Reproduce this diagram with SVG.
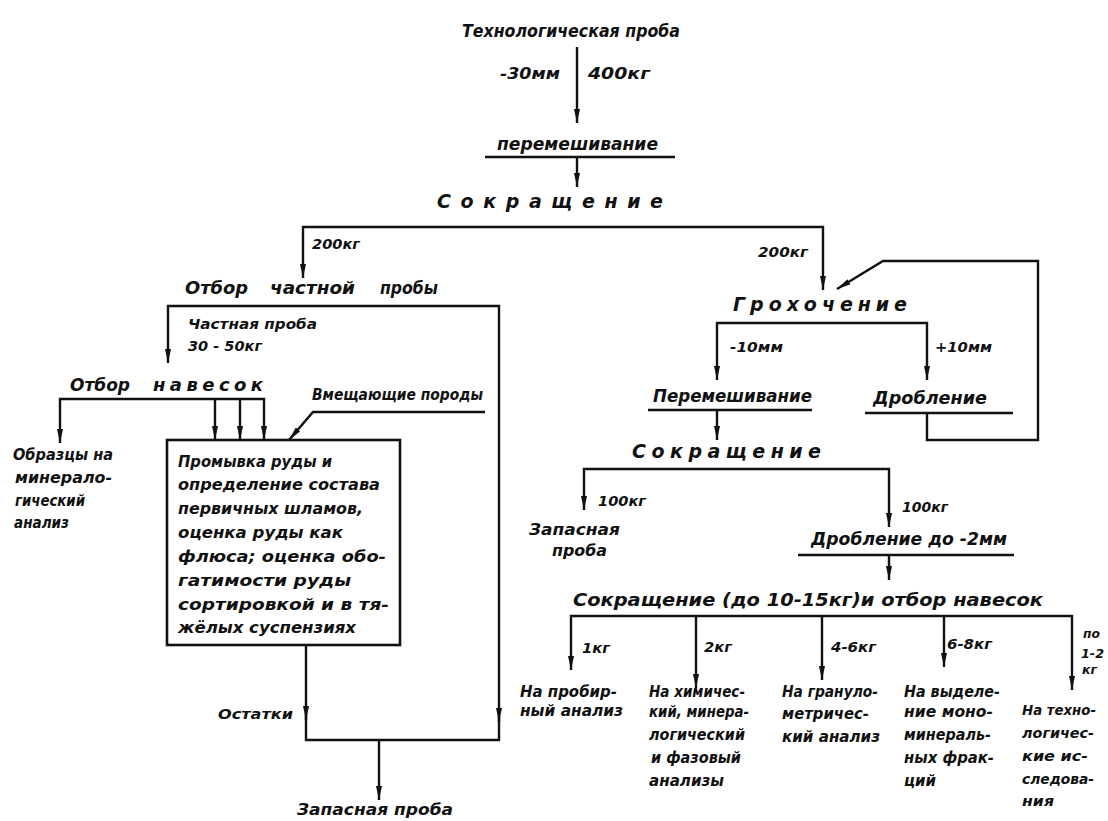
<svg xmlns="http://www.w3.org/2000/svg" width="1108" height="821" viewBox="0 0 1108 821">
<style>
.ln{fill:none;stroke:#111;stroke-width:2.4;stroke-linejoin:miter}
.bar{fill:none;stroke:#111;stroke-width:2.6}
.box{fill:none;stroke:#111;stroke-width:2.6}
.t{font-family:"DejaVu Sans","Liberation Sans",sans-serif;font-style:italic;font-weight:bold;fill:#111}
.b{font-size:18px}
.m{font-size:16px}
.s{font-size:14px}
</style>
<defs>
<marker id="ah" viewBox="0 0 14 6" refX="14" refY="3" markerWidth="14" markerHeight="6" markerUnits="userSpaceOnUse" orient="auto">
<path d="M0,0 L14,3 L0,6 z" fill="#111"/>
</marker>
</defs>
<rect width="1108" height="821" fill="#fff"/>

<g id="connectors">
<path class="ln" d="M577,47 V123" marker-end="url(#ah)"/>
<path class="ln" d="M577,157 V187" marker-end="url(#ah)"/>
<path class="ln" d="M577,227 H303 V278" marker-end="url(#ah)"/>
<path class="ln" d="M577,227 H823 V290" marker-end="url(#ah)"/>
<path class="ln" d="M330,306 H168 V363" marker-end="url(#ah)"/>
<path class="ln" d="M330,306 H499 V722" marker-end="url(#ah)"/>
<path class="ln" d="M499,716 V740 H306 V714"/>
<path class="ln" d="M306,645 V720" marker-end="url(#ah)"/>
<path class="ln" d="M379,740 V800" marker-end="url(#ah)"/>
<path class="ln" d="M160,399 H60 V443" marker-end="url(#ah)"/>
<path class="ln" d="M160,399 H264 V440" marker-end="url(#ah)"/>
<path class="ln" d="M215,399 V440" marker-end="url(#ah)"/>
<path class="ln" d="M240,399 V440" marker-end="url(#ah)"/>
<path class="ln" d="M485,412 H313 L289,440" marker-end="url(#ah)"/>
<path class="ln" d="M820,323 H717 V380" marker-end="url(#ah)"/>
<path class="ln" d="M820,323 H927 V380" marker-end="url(#ah)"/>
<path class="ln" d="M717,410 V440" marker-end="url(#ah)"/>
<path class="ln" d="M927,413 V440 H1038 V261 H883 L837,289" marker-end="url(#ah)"/>
<path class="ln" d="M717,469 H584 V510" marker-end="url(#ah)"/>
<path class="ln" d="M717,469 H889 V527" marker-end="url(#ah)"/>
<path class="ln" d="M889,555 V580" marker-end="url(#ah)"/>
<path class="ln" d="M700,616 H571 V670" marker-end="url(#ah)"/>
<path class="ln" d="M700,616 H1072 V690" marker-end="url(#ah)"/>
<path class="ln" d="M696,616 V688" marker-end="url(#ah)"/>
<path class="ln" d="M822,616 V680" marker-end="url(#ah)"/>
<path class="ln" d="M944,616 V667" marker-end="url(#ah)"/>
</g>

<g id="labels">
<text class="t m" x="500" y="79" textLength="60" lengthAdjust="spacingAndGlyphs">-30мм</text>
<text class="t m" x="588" y="79" textLength="62" lengthAdjust="spacingAndGlyphs">400кг</text>
<text class="t s" x="312" y="249" textLength="48" lengthAdjust="spacingAndGlyphs">200кг</text>
<text class="t s" x="758" y="257" textLength="50" lengthAdjust="spacingAndGlyphs">200кг</text>
<text class="t s" x="188" y="329" textLength="129" lengthAdjust="spacingAndGlyphs">Частная проба</text>
<text class="t s" x="188" y="351" textLength="74" lengthAdjust="spacingAndGlyphs">30 - 50кг</text>
<text class="t s" x="218" y="719" textLength="75" lengthAdjust="spacingAndGlyphs">Остатки</text>
<text class="t s" x="730" y="352" textLength="53" lengthAdjust="spacingAndGlyphs">-10мм</text>
<text class="t s" x="935" y="352" textLength="57" lengthAdjust="spacingAndGlyphs">+10мм</text>
<text class="t s" x="598" y="506" textLength="48" lengthAdjust="spacingAndGlyphs">100кг</text>
<text class="t s" x="902" y="512" textLength="46" lengthAdjust="spacingAndGlyphs">100кг</text>
<text class="t s" x="582" y="653" textLength="28" lengthAdjust="spacingAndGlyphs">1кг</text>
<text class="t s" x="704" y="652" textLength="28" lengthAdjust="spacingAndGlyphs">2кг</text>
<text class="t s" x="831" y="652" textLength="45" lengthAdjust="spacingAndGlyphs">4-6кг</text>
<text class="t s" x="947" y="649" textLength="45" lengthAdjust="spacingAndGlyphs">6-8кг</text>
<text class="t" style="font-size:13px" x="1083" y="638" textLength="17" lengthAdjust="spacingAndGlyphs">по</text>
<text class="t" style="font-size:13px" x="1081" y="658" textLength="23" lengthAdjust="spacingAndGlyphs">1-2</text>
<text class="t" style="font-size:13px" x="1082" y="674" textLength="15" lengthAdjust="spacingAndGlyphs">кг</text>
</g>

<g id="n-tech">
<text class="t b" x="462" y="37" textLength="218" lengthAdjust="spacingAndGlyphs">Технологическая проба</text>
</g>

<g id="n-mix1">
<text class="t b" x="497" y="150" textLength="161" lengthAdjust="spacingAndGlyphs">перемешивание</text>
<path class="bar" d="M485,157 H675"/>
</g>

<g id="n-reduce1">
<text class="t" style="font-size:19px" x="437" y="208" textLength="226" lengthAdjust="spacing">Сокращение</text>
</g>

<g id="n-partial">
<text class="t b" x="185" y="294" textLength="63" lengthAdjust="spacingAndGlyphs">Отбор</text>
<text class="t b" x="270" y="294" textLength="85" lengthAdjust="spacingAndGlyphs">частной</text>
<text class="t b" x="380" y="294" textLength="58" lengthAdjust="spacingAndGlyphs">пробы</text>
</g>

<g id="n-navesok">
<text class="t b" x="70" y="391" textLength="60" lengthAdjust="spacingAndGlyphs">Отбор</text>
<text class="t b" x="153" y="391" textLength="110" lengthAdjust="spacing">навесок</text>
</g>

<g id="n-obrazcy">
<text class="t m" x="13" y="460" textLength="100" lengthAdjust="spacingAndGlyphs">Образцы на</text>
<text class="t m" x="15" y="483" textLength="97" lengthAdjust="spacingAndGlyphs">минерало-</text>
<text class="t m" x="15" y="506" textLength="70" lengthAdjust="spacingAndGlyphs">гический</text>
<text class="t m" x="14" y="528" textLength="55" lengthAdjust="spacingAndGlyphs">анализ</text>
</g>

<g id="n-vmesh">
<text class="t m" x="312" y="400" textLength="171" lengthAdjust="spacingAndGlyphs">Вмещающие породы</text>
</g>

<g id="n-box">
<rect class="box" x="167" y="440" width="233" height="205"/>
<text class="t m" x="178" y="467" textLength="154" lengthAdjust="spacingAndGlyphs">Промывка руды и</text>
<text class="t m" x="178" y="490" textLength="202" lengthAdjust="spacingAndGlyphs">определение состава</text>
<text class="t m" x="178" y="514" textLength="185" lengthAdjust="spacingAndGlyphs">первичных шламов,</text>
<text class="t m" x="178" y="538" textLength="165" lengthAdjust="spacingAndGlyphs">оценка руды как</text>
<text class="t m" x="178" y="562" textLength="208" lengthAdjust="spacingAndGlyphs">флюса; оценка обо-</text>
<text class="t m" x="178" y="586" textLength="173" lengthAdjust="spacingAndGlyphs">гатимости руды</text>
<text class="t m" x="178" y="610" textLength="211" lengthAdjust="spacingAndGlyphs">сортировкой и в тя-</text>
<text class="t m" x="178" y="633" textLength="178" lengthAdjust="spacingAndGlyphs">жёлых суспензиях</text>
</g>

<g id="n-reserve1">
<text class="t m" x="297" y="815" textLength="156" lengthAdjust="spacingAndGlyphs">Запасная проба</text>
</g>

<g id="n-screen">
<text class="t" style="font-size:19px" x="733" y="311" textLength="174" lengthAdjust="spacing">Грохочение</text>
</g>

<g id="n-mix2">
<text class="t" style="font-size:17px" x="653" y="402" textLength="159" lengthAdjust="spacingAndGlyphs">Перемешивание</text>
<path class="bar" d="M648,410 H812"/>
</g>

<g id="n-crush">
<text class="t" style="font-size:17px" x="873" y="404" textLength="114" lengthAdjust="spacingAndGlyphs">Дробление</text>
<path class="bar" d="M865,413 H1013"/>
</g>

<g id="n-reduce2">
<text class="t" style="font-size:19px" x="632" y="458" textLength="189" lengthAdjust="spacing">Сокращение</text>
</g>

<g id="n-reserve2">
<text class="t m" x="529" y="535" textLength="91" lengthAdjust="spacingAndGlyphs">Запасная</text>
<text class="t m" x="552" y="556" textLength="55" lengthAdjust="spacingAndGlyphs">проба</text>
</g>

<g id="n-crush2">
<text class="t" style="font-size:17px" x="811" y="545" textLength="196" lengthAdjust="spacingAndGlyphs">Дробление до -2мм</text>
<path class="bar" d="M798,555 H1014"/>
</g>

<g id="n-reduce3">
<text class="t" style="font-size:17px" x="573" y="606" textLength="470" lengthAdjust="spacingAndGlyphs">Сокращение (до 10-15кг)и отбор навесок</text>
</g>

<g id="n-assay">
<text class="t m" x="520" y="697" textLength="97" lengthAdjust="spacingAndGlyphs">На пробир-</text>
<text class="t m" x="520" y="716" textLength="103" lengthAdjust="spacingAndGlyphs">ный анализ</text>
</g>

<g id="n-chem">
<text class="t m" x="649" y="697" textLength="96" lengthAdjust="spacingAndGlyphs">На химичес-</text>
<text class="t m" x="649" y="717" textLength="100" lengthAdjust="spacingAndGlyphs">кий, минера-</text>
<text class="t m" x="649" y="740" textLength="96" lengthAdjust="spacingAndGlyphs">логический</text>
<text class="t m" x="651" y="763" textLength="90" lengthAdjust="spacingAndGlyphs">и фазовый</text>
<text class="t m" x="649" y="786" textLength="75" lengthAdjust="spacingAndGlyphs">анализы</text>
</g>

<g id="n-granulo">
<text class="t m" x="782" y="697" textLength="96" lengthAdjust="spacingAndGlyphs">На грануло-</text>
<text class="t m" x="782" y="719" textLength="87" lengthAdjust="spacingAndGlyphs">метричес-</text>
<text class="t m" x="782" y="742" textLength="98" lengthAdjust="spacingAndGlyphs">кий анализ</text>
</g>

<g id="n-mono">
<text class="t m" x="904" y="697" textLength="96" lengthAdjust="spacingAndGlyphs">На выделе-</text>
<text class="t m" x="904" y="717" textLength="89" lengthAdjust="spacingAndGlyphs">ние моно-</text>
<text class="t m" x="904" y="740" textLength="87" lengthAdjust="spacingAndGlyphs">минераль-</text>
<text class="t m" x="904" y="763" textLength="90" lengthAdjust="spacingAndGlyphs">ных фрак-</text>
<text class="t m" x="904" y="786" textLength="32" lengthAdjust="spacingAndGlyphs">ций</text>
</g>

<g id="n-techno">
<text class="t s" x="1022" y="715" textLength="74" lengthAdjust="spacingAndGlyphs">На техно-</text>
<text class="t s" x="1022" y="738" textLength="72" lengthAdjust="spacingAndGlyphs">логичес-</text>
<text class="t s" x="1022" y="761" textLength="66" lengthAdjust="spacingAndGlyphs">кие ис-</text>
<text class="t s" x="1022" y="784" textLength="72" lengthAdjust="spacingAndGlyphs">следова-</text>
<text class="t s" x="1022" y="806" textLength="32" lengthAdjust="spacingAndGlyphs">ния</text>
</g>
</svg>
